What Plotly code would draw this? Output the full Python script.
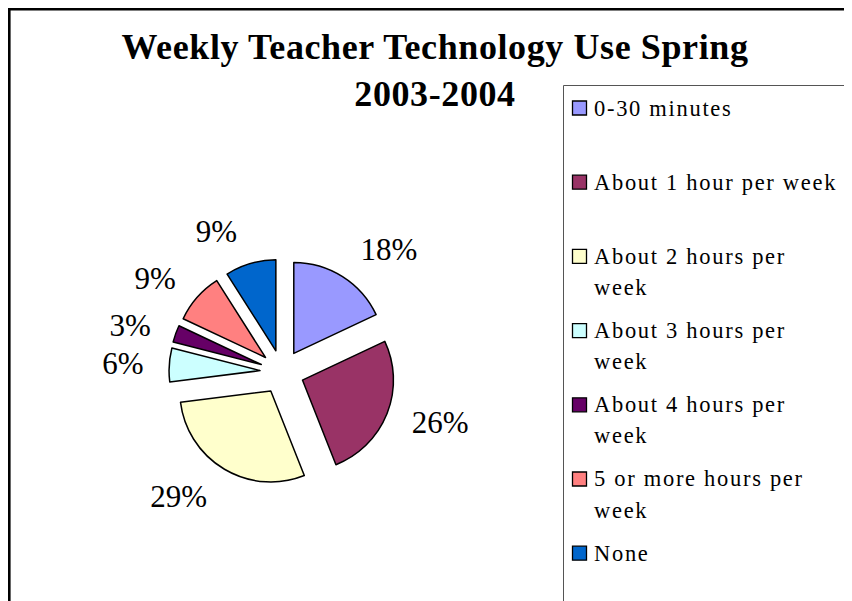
import textwrap
import plotly.graph_objects as go

# ---- data ----
categories = [
    "0-30 minutes",
    "About 1 hour per week",
    "About 2 hours per week",
    "About 3 hours per week",
    "About 4 hours per week",
    "5 or more hours per week",
    "None",
]
values = [18, 26, 29, 6, 3, 9, 9]
colors = ["#9999FF", "#993366", "#FFFFCC", "#CCFFFF", "#660066", "#FF8080", "#0066CC"]
title_lines = ["Weekly Teacher Technology Use Spring", "2003-2004"]

# page body has an 8px margin: lay out in window pixels, shift into the figure
OFF = 8
W, H = 852 - OFF, 601 - OFF
SERIF = "Liberation Serif, Times New Roman, serif"


def px_x(x):
    return (x - OFF) / W


def px_y(y):
    return 1 - (y - OFF) / H


def spaced(s, ls):
    return f'<span style="letter-spacing:{ls}px">{s}</span>'


# pie geometry (window pixels)
cx, cy = 282, 372
r = 91          # pie radius
pull_px = 22    # explode distance
r_lab = r + 17  # radius used to place the outside percentage labels


def pie_domain(radius, pull_frac):
    half = radius * (1 + pull_frac)
    return dict(x=[px_x(cx - half), px_x(cx + half)],
                y=[px_y(cy + half), px_y(cy - half)])


pull1 = pull_px / r
pull2 = pull_px / r_lab

fig = go.Figure()
fig.add_trace(go.Pie(
    labels=categories,
    values=values,
    sort=False,
    direction="clockwise",
    rotation=0,
    pull=[pull1] * len(values),
    marker=dict(colors=colors, line=dict(color="black", width=1.5)),
    textinfo="none",
    showlegend=False,
    hoverinfo="label+percent",
    domain=pie_domain(r, pull1),
))
# transparent companion pie that only carries the percentage labels
fig.add_trace(go.Pie(
    labels=categories,
    values=values,
    sort=False,
    direction="clockwise",
    rotation=0,
    pull=[pull2] * len(values),
    marker=dict(colors=["rgba(0,0,0,0)"] * len(values), line=dict(width=0)),
    texttemplate="%{percent:.0%}",
    textposition="outside",
    outsidetextfont=dict(family=SERIF, size=31, color="black"),
    showlegend=False,
    hoverinfo="skip",
    domain=pie_domain(r_lab, pull2),
))

shapes = [
    # chart frame (left and top edges visible)
    dict(type="line", xref="paper", yref="paper", x0=px_x(9.3), y0=px_y(9.3), x1=px_x(9.3), y1=px_y(640),
         line=dict(color="black", width=2.6)),
    dict(type="line", xref="paper", yref="paper", x0=px_x(8), y0=px_y(9.3), x1=px_x(880), y1=px_y(9.3),
         line=dict(color="black", width=2.6)),
    # legend box
    dict(type="line", xref="paper", yref="paper", x0=px_x(563.5), y0=px_y(85.5), x1=px_x(563.5), y1=px_y(640),
         line=dict(color="#555555", width=1)),
    dict(type="line", xref="paper", yref="paper", x0=px_x(563.5), y0=px_y(85.5), x1=px_x(880), y1=px_y(85.5),
         line=dict(color="#555555", width=1)),
]

annotations = []
for i, (cat, col) in enumerate(zip(categories, colors)):
    yc = 108 + 74.2 * i
    shapes.append(dict(type="rect", xref="paper", yref="paper",
                       x0=px_x(572.5), x1=px_x(586.5), y0=px_y(yc - 7), y1=px_y(yc + 7),
                       fillcolor=col, line=dict(color="black", width=1.3)))
    for j, line in enumerate(textwrap.wrap(cat, 21)):
        annotations.append(dict(
            xref="paper", yref="paper", x=px_x(592), y=px_y(yc + 31 * j),
            xanchor="left", yanchor="middle", showarrow=False, text=spaced(line, 1.7),
            font=dict(family=SERIF, size=22.5, color="black"),
        ))

fig.update_layout(
    width=W, height=H,
    margin=dict(l=0, r=0, t=0, b=0),
    paper_bgcolor="white",
    plot_bgcolor="white",
    title=dict(
        text="<b>" + "<br>".join(spaced(t, 0.6) for t in title_lines) + "</b>",
        x=px_x(435), xanchor="center",
        y=px_y(59), yanchor="top",
        font=dict(family=SERIF, size=36, color="black"),
    ),
    shapes=shapes,
    annotations=annotations,
)

fig.write_html("out.html")
